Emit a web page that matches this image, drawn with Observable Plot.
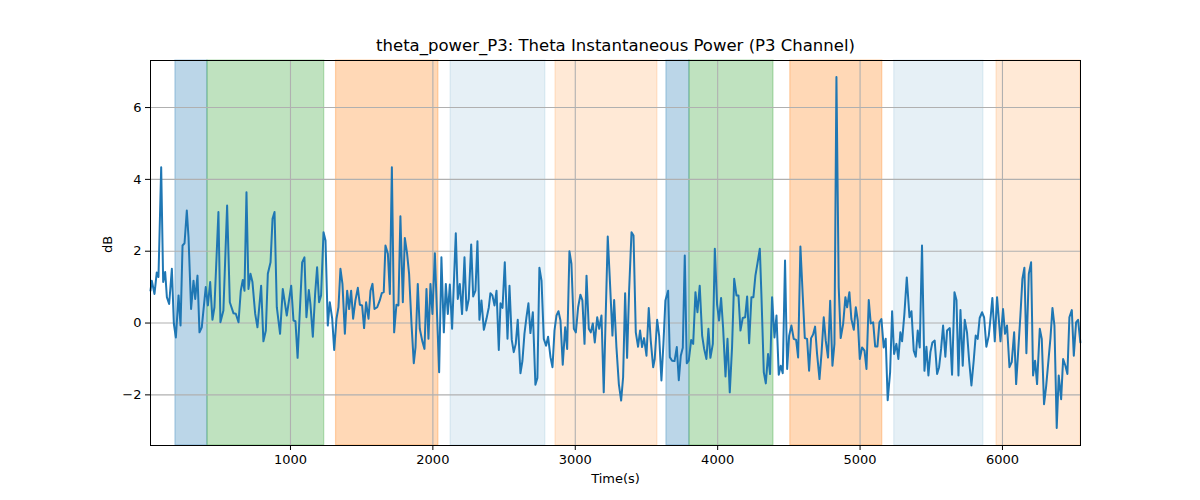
<!DOCTYPE html>
<html>
<head>
<meta charset="utf-8">
<script src="https://cdn.jsdelivr.net/npm/d3@7"></script>
<script src="https://cdn.jsdelivr.net/npm/@observablehq/plot@0.6"></script>
<style>
  html, body { margin: 0; padding: 0; background: #fff; }
  #chart { width: 1200px; height: 500px; }
</style>
</head>
<body>
<div id="chart"></div>
<script>
const title = "theta_power_P3: Theta Instantaneous Power (P3 Channel)";
const xLabel = "Time(s)";
const yLabel = "dB";
const xTicks = [1000, 2000, 3000, 4000, 5000, 6000];
const yTicks = [-2, 0, 2, 4, 6];

const times = [
  17, 26, 45, 61, 73, 92, 106, 120, 132, 148, 167, 181, 195, 214, 228, 242, 256, 272, 284, 302,
  319, 331, 347, 361, 377, 405, 420, 436, 452, 466, 494, 508, 529, 555, 574, 600, 616, 635, 651, 665,
  677, 691, 705, 719, 733, 752, 768, 794, 810, 827, 841, 860, 874, 888, 904, 927, 946, 974, 1005, 1021,
  1035, 1050, 1082, 1098, 1112, 1129, 1140, 1157, 1173, 1187, 1201, 1215, 1232, 1246, 1262, 1276, 1293, 1307, 1323, 1337,
  1351, 1365, 1382, 1398, 1412, 1426, 1440, 1456, 1473, 1487, 1503, 1517, 1531, 1548, 1562, 1576, 1590, 1609, 1627, 1641,
  1655, 1667, 1684, 1698, 1712, 1728, 1744, 1758, 1772, 1789, 1803, 1819, 1833, 1850, 1866, 1878, 1894, 1908, 1925, 1941,
  1955, 1969, 1983, 1997, 2014, 2030, 2044, 2060, 2077, 2091, 2105, 2119, 2135, 2161, 2175, 2189, 2205, 2222, 2236, 2252,
  2269, 2283, 2299, 2313, 2327, 2341, 2358, 2376, 2393, 2404, 2418, 2433, 2447, 2463, 2475, 2489, 2505, 2524, 2538, 2554,
  2568, 2582, 2596, 2615, 2629, 2643, 2657, 2671, 2685, 2702, 2720, 2734, 2748, 2763, 2779, 2795, 2809, 2826, 2840, 2854,
  2868, 2882, 2896, 2912, 2929, 2943, 2959, 2973, 2990, 3004, 3020, 3036, 3050, 3065, 3079, 3095, 3109, 3123, 3137, 3154,
  3168, 3184, 3200, 3228, 3242, 3261, 3273, 3289, 3306, 3322, 3336, 3350, 3364, 3378, 3395, 3409, 3425, 3441, 3455, 3469,
  3483, 3500, 3516, 3530, 3547, 3558, 3575, 3589, 3605, 3619, 3633, 3652, 3664, 3680, 3697, 3713, 3727, 3741, 3755, 3769,
  3783, 3797, 3814, 3828, 3844, 3858, 3874, 3891, 3905, 3921, 3935, 3949, 3966, 3980, 3996, 4010, 4024, 4038, 4055, 4069,
  4085, 4101, 4116, 4132, 4146, 4160, 4176, 4193, 4207, 4221, 4237, 4251, 4265, 4279, 4296, 4307, 4324, 4338, 4354, 4368,
  4382, 4399, 4413, 4429, 4443, 4457, 4473, 4488, 4502, 4518, 4534, 4551, 4565, 4581, 4598, 4612, 4628, 4642, 4656, 4670,
  4684, 4698, 4715, 4729, 4745, 4759, 4775, 4790, 4806, 4820, 4834, 4850, 4864, 4881, 4897, 4909, 4925, 4939, 4956, 4970,
  4984, 4998, 5014, 5031, 5045, 5061, 5075, 5092, 5106, 5122, 5136, 5150, 5166, 5180, 5194, 5211, 5225, 5239, 5255, 5269,
  5283, 5295, 5311, 5328, 5347, 5361, 5377, 5391, 5405, 5419, 5435, 5452, 5466, 5480, 5494, 5508, 5524, 5541, 5555, 5569,
  5583, 5599, 5611, 5630, 5646, 5663, 5677, 5691, 5705, 5721, 5735, 5751, 5766, 5782, 5798, 5812, 5826, 5840, 5857, 5871,
  5887, 5904, 5918, 5929, 5946, 5962, 5976, 5986, 6004, 6018, 6032, 6049, 6065, 6082, 6096, 6110, 6126, 6140, 6154, 6168,
  6185, 6201, 6215, 6229, 6243, 6262, 6276, 6292, 6306, 6325, 6337, 6351, 6365, 6381, 6395, 6412, 6426, 6442, 6456, 6470,
  6487, 6501, 6517, 6531, 6547
];

const powerDb = [
  0.90, 1.18, 0.81, 1.41, 1.28, 4.34, 1.14, 1.42, 0.72, 0.53, 1.51, -0.02, -0.40, 0.77, -0.07, 2.16, 2.22, 3.13, 2.39, 0.39,
  1.18, 0.67, 1.32, -0.26, -0.12, 1.00, 0.49, 1.14, 0.09, 0.44, 3.09, 0.02, 0.35, 3.27, 0.58, 0.27, 0.26, 0.02, 0.90, 1.20,
  0.90, 3.64, 0.95, 1.37, 1.14, 0.26, -0.12, 1.04, -0.51, -0.21, 1.37, 1.69, 2.90, 3.09, 0.44, -0.30, 0.95, 0.21, 1.04, 0.07,
  0.05, -0.97, 1.69, 1.83, 0.16, 0.92, 0.53, -0.38, 0.81, 1.55, 0.58, 0.77, 2.53, 2.30, -0.07, 0.58, 0.12, -0.75, 0.12, 0.44,
  1.51, 1.09, -0.30, 0.90, 0.39, 0.90, 0.12, 0.63, 0.98, 0.51, 0.49, -0.14, 0.58, 0.12, 0.90, 1.09, 0.39, 0.44, 0.63, 0.83,
  0.86, 2.16, 1.93, 0.81, 4.34, -0.26, 0.51, 0.49, 2.97, 0.58, 2.37, 1.93, 1.37, -0.03, -1.12, -0.68, 1.09, -0.16, -0.49, -0.72,
  0.95, -0.44, 1.09, 0.25, 1.94, 0.16, -1.37, 1.83, -0.26, 1.09, 0.25, 1.07, -0.16, 2.50, 0.67, 1.09, 0.25, 1.83, 0.35, 0.67,
  2.19, 0.74, 0.90, 2.28, 0.09, 0.63, -0.19, 0.11, 0.44, 0.83, 0.77, 0.49, 0.90, -0.75, 0.55, 0.42, 1.69, -0.44, 1.04, -0.47,
  -0.81, -0.58, 0.09, -1.40, -1.05, -0.30, 0.16, 0.55, -0.28, 0.30, -1.72, -1.53, 1.54, 1.18, -0.44, -0.63, -0.38, -0.95, -1.23, -0.21,
  0.21, 0.33, 0.07, -1.16, -0.12, -0.72, 2.00, 1.65, -0.16, -0.26, 0.44, 0.79, 0.63, -0.58, 1.32, -0.16, -0.26, -0.01, -0.54, 0.16,
  -0.16, 0.21, -1.93, 2.41, 1.27, -0.35, 0.64, -0.67, -1.70, -2.16, -1.51, 0.83, -0.97, 0.90, 2.53, 2.44, -0.26, -0.66, -0.21, -0.67,
  -0.42, -0.91, 0.42, -0.49, -1.23, -1.00, 0.09, -0.35, -1.60, -0.58, 0.63, 0.90, -0.95, -1.05, -1.06, -0.67, -1.59, -0.91, -0.69, 1.88,
  -1.12, -1.05, -0.47, -0.58, 0.86, 0.30, 1.04, -0.35, -0.72, -1.00, -0.16, -0.97, -0.58, 2.07, 0.51, 0.07, 0.70, -0.12, -1.49, -0.44,
  -1.93, -0.67, 1.23, 0.77, 0.77, -0.21, 0.14, 0.16, 0.74, -0.56, 0.72, 0.72, 1.32, 1.65, 2.07, 0.81, -1.37, -1.68, -0.86, -1.42,
  0.72, -0.40, 0.21, -1.44, -1.19, -1.40, 1.74, -1.28, -0.35, -0.07, -0.44, -0.47, -0.96, 2.13, 0.72, -0.42, -0.44, -1.33, -0.42, -0.32,
  -0.10, -0.86, -1.56, -0.86, 0.16, -0.49, -0.96, 0.62, -1.19, -0.58, 6.85, 1.00, -0.42, -0.03, 0.72, 0.44, 0.86, 0.11, -0.19, 0.44,
  0.07, -1.00, -0.68, -0.77, -1.28, 0.64, -0.01, 0.02, -0.65, -0.65, 0.02, 0.11, -0.68, -0.44, -2.15, -1.37, 0.33, -0.86, -0.58, -1.00,
  -0.26, -0.51, 0.24, 1.27, 0.16, 0.33, -0.77, -0.94, -0.21, -0.68, 2.16, -1.33, -0.66, -1.46, -0.81, -0.54, -0.49, -1.42, -1.23, -0.72,
  -0.07, -0.94, -0.21, -0.14, -1.44, 0.86, 0.64, -1.46, 0.36, -1.19, 0.09, -0.26, -1.05, -1.74, -1.05, -0.35, -0.44, 0.14, 0.30, 0.16,
  -0.66, -0.35, 0.21, 0.70, -0.51, 0.72, 0.02, -0.51, 0.39, -0.30, -0.07, -1.23, -1.09, -0.26, -1.70, -0.81, 0.21, 1.23, 1.54, -0.84,
  1.37, 1.69, -1.46, -1.05, -1.70, -0.16, -0.44, -2.26, -1.79, -0.95, -0.42, 0.42, -0.07, -2.92, -1.46, -2.12, -1.00, -1.19, -1.42, 0.16,
  0.36, -0.91, 0.02, 0.09, -0.54
];

// shaded epochs
const spanStarts = [192, 417, 1320, 2124, 2861, 3640, 3802, 4510, 5240, 5958];
const spanEnds   = [417, 1237, 2039, 2790, 3577, 3802, 4392, 5156, 5866, 6548];
const spanKinds  = ["A", "B", "C", "D", "E", "A", "B", "C", "D", "E"];

const kindStyle = {
  A: { color: "#1f77b4", opacity: 0.3 },
  B: { color: "#2ca02c", opacity: 0.3 },
  C: { color: "#ff7f0e", opacity: 0.3 },
  D: { color: "#1f77b4", opacity: 0.115 },
  E: { color: "#ff7f0e", opacity: 0.17 }
};

const series = times.map((t, i) => ({ t, v: powerDb[i] }));
const spans = spanStarts.map((s, i) => ({ s, e: spanEnds[i], k: spanKinds[i] }));

const fmt = d => (d < 0 ? "\u2212" + Math.abs(d) : String(d));

const chart = Plot.plot({
  width: 1200,
  height: 500,
  marginLeft: 150,
  marginRight: 120,
  marginTop: 60,
  marginBottom: 55,
  style: { fontFamily: "DejaVu Sans", fontSize: "13px", color: "#000", background: "#fff" },
  x: { domain: [17, 6548], label: null },
  y: { domain: [-3.41, 7.31], label: null },
  marks: [
    Plot.rect(spans, {
      x1: "s", x2: "e",
      fill: d => kindStyle[d.k].color,
      fillOpacity: d => kindStyle[d.k].opacity,
      stroke: d => kindStyle[d.k].color,
      strokeOpacity: d => kindStyle[d.k].opacity,
      strokeWidth: 1.2
    }),
    Plot.gridX(xTicks, { stroke: "#b0b0b0", strokeOpacity: 1, strokeWidth: 1.1 }),
    Plot.gridY(yTicks, { stroke: "#b0b0b0", strokeOpacity: 1, strokeWidth: 1.1 }),
    Plot.line(series, { x: "t", y: "v", stroke: "#1f77b4", strokeWidth: 2 }),
    Plot.frame({ stroke: "#000", strokeWidth: 1 }),
    Plot.axisX(xTicks, { tickSize: 5, tickPadding: 4, tickFormat: fmt, fontSize: 13 }),
    Plot.axisY(yTicks, { tickSize: 5, tickPadding: 4, tickFormat: fmt, fontSize: 13 }),
    Plot.text([title], { frameAnchor: "top", dy: -21, fontSize: 16.5, fill: "#000" }),
    Plot.text([xLabel], { frameAnchor: "bottom", dy: 37, fontSize: 13, fill: "#000" }),
    Plot.text([yLabel], { frameAnchor: "left", dx: -43, rotate: -90, fontSize: 13, fill: "#000" })
  ]
});

document.getElementById("chart").appendChild(chart);
</script>
</body>
</html>
